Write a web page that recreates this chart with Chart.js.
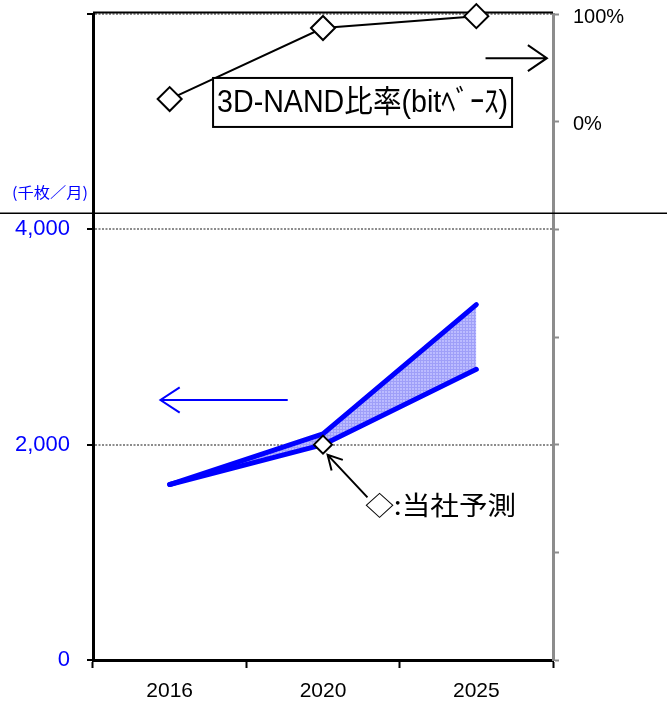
<!DOCTYPE html>
<html>
<head>
<meta charset="utf-8">
<script src="https://cdn.jsdelivr.net/npm/chart.js@4/dist/chart.umd.min.js"></script>
<style>
  html, body { margin: 0; padding: 0; background: #fff; }
  canvas { display: block; }
</style>
</head>
<body>
<canvas id="c" width="667" height="708"></canvas>
<script>
// ---- data ----
const years = ['2016', '2020', '2025'];
const capacityHigh = [1630, 2100, 3300];   // 千枚/月 (upper case)
const capacityLow = [1630, 2000, 2700];    // 千枚/月 (lower case)
const nandRatio = [21, 87, 98];            // 3D-NAND比率, %
const forecastPoint = [null, 2000, null];  // 当社予測
const leftTickLabels = [0, 2000, 4000];
const rightTickLabels = [0, 100];

// ---- annotation anchors (x: category index, y: axis value) ----
const notes = {
  leftArrow: { from: [0.77, 2415], to: [-0.06, 2415] },
  rightArrow: { from: [2.06, 59], to: [2.46, 59] },
  pointer: { from: [1.29, 1510], to: [1.03, 1905] },
  caption: { at: [1.275, 1440], width: 151, text: '◇:当社予測' },
  box: { x0: 0.283, x1: 2.233, top: 40.6, bottom: -4.9, text: '3D-NAND比率(bitﾍﾞｰｽ)' },
  divider: 4150,
  unit: { at: [-0.78, 4347], text: '(千枚／月)' }
};

const BLUE = '#0000ff';
const canvas = document.getElementById('c');

function hatchPattern() {
  const tile = document.createElement('canvas');
  tile.width = 3; tile.height = 3;
  const g = tile.getContext('2d');
  g.fillStyle = '#bcbcff';
  g.fillRect(0, 0, 3, 3);
  g.fillStyle = '#9f9ff8';
  g.fillRect(0, 0, 3, 1);
  g.fillRect(0, 0, 1, 3);
  return canvas.getContext('2d').createPattern(tile, 'repeat');
}

function arrow(ctx, x1, y1, x2, y2, color, width, headLen, headAngle) {
  ctx.save();
  ctx.strokeStyle = color;
  ctx.lineWidth = width;
  ctx.lineJoin = 'miter';
  ctx.beginPath();
  ctx.moveTo(x1, y1);
  ctx.lineTo(x2, y2);
  const a = Math.atan2(y2 - y1, x2 - x1);
  ctx.moveTo(x2 - headLen * Math.cos(a - headAngle), y2 - headLen * Math.sin(a - headAngle));
  ctx.lineTo(x2, y2);
  ctx.lineTo(x2 - headLen * Math.cos(a + headAngle), y2 - headLen * Math.sin(a + headAngle));
  ctx.stroke();
  ctx.restore();
}

function fitText(ctx, text, cx, cy, width, font, color, align) {
  ctx.save();
  ctx.font = font;
  ctx.fillStyle = color;
  ctx.textBaseline = 'middle';
  ctx.textAlign = 'left';
  const w = ctx.measureText(text).width;
  const k = width / w;
  const left = align === 'left' ? cx : cx - width / 2;
  ctx.translate(left, cy);
  ctx.scale(k, 1);
  ctx.fillText(text, 0, 0);
  ctx.restore();
}

const decorations = {
  id: 'decorations',
  beforeDatasetsDraw(chart) {
    const { ctx, chartArea } = chart;
    // top frame line
    ctx.save();
    ctx.strokeStyle = '#000';
    ctx.lineWidth = 2;
    ctx.beginPath();
    ctx.moveTo(chartArea.left, chartArea.top - 1.5);
    ctx.lineTo(chartArea.right, chartArea.top - 1.5);
    ctx.stroke();
    ctx.restore();
  },
  afterDatasetsDraw(chart) {
    const { ctx } = chart;
    const sx = chart.scales.x, sy = chart.scales.y, sr = chart.scales.y1;
    const X = v => sx.getPixelForValue(v);
    const YL = v => sy.getPixelForValue(v);
    const YR = v => sr.getPixelForValue(v);

    // label box for the ratio series
    const b = notes.box;
    const bx0 = X(b.x0), bx1 = X(b.x1), by0 = YR(b.top), by1 = YR(b.bottom);
    ctx.save();
    ctx.fillStyle = '#fff';
    ctx.fillRect(bx0, by0, bx1 - bx0, by1 - by0);
    ctx.strokeStyle = '#000';
    ctx.lineWidth = 2;
    ctx.strokeRect(bx0, by0, bx1 - bx0, by1 - by0);
    ctx.restore();
    fitText(ctx, b.text, (bx0 + bx1) / 2, (by0 + by1) / 2 + 1, (bx1 - bx0) - 8,
      '31px "Liberation Sans Narrow", "Liberation Sans", "Noto Sans CJK JP", sans-serif', '#000', 'center');

    // axis direction arrows
    const la = notes.leftArrow;
    arrow(ctx, X(la.from[0]), YL(la.from[1]), X(la.to[0]), YL(la.to[1]), BLUE, 2, 23, 0.58);
    const ra = notes.rightArrow;
    arrow(ctx, X(ra.from[0]), YR(ra.from[1]), X(ra.to[0]), YR(ra.to[1]), '#000', 2, 23, 0.6);

    // pointer to the forecast marker
    const p = notes.pointer;
    arrow(ctx, X(p.from[0]), YL(p.from[1]), X(p.to[0]), YL(p.to[1]), '#000', 2, 16, 0.5);
    const c = notes.caption;
    fitText(ctx, c.text, X(c.at[0]), YL(c.at[1]), c.width,
      '26px "Noto Sans CJK JP", sans-serif', '#000', 'left');

    // unit label
    const u = notes.unit;
    fitText(ctx, u.text, X(u.at[0]), YL(u.at[1]), 76,
      '15px "Noto Sans CJK JP", sans-serif', BLUE, 'center');
  },
  afterDraw(chart) {
    const { ctx } = chart;
    const y = chart.scales.y.getPixelForValue(notes.divider);
    ctx.save();
    ctx.strokeStyle = '#000';
    ctx.lineWidth = 1.5;
    ctx.beginPath();
    ctx.moveTo(0, y);
    ctx.lineTo(chart.width, y);
    ctx.stroke();
    ctx.restore();
  }
};

function fixWidth(w) {
  return s => { s.width = w; s.paddingTop = 0; s.paddingBottom = 0; };
}

new Chart(canvas, {
  type: 'line',
  data: {
    labels: years,
    datasets: [
      {
        label: 'ratio',
        data: nandRatio,
        yAxisID: 'y1',
        borderColor: '#000',
        borderWidth: 2,
        pointStyle: 'rectRot',
        pointRadius: 12,
        pointBackgroundColor: '#fff',
        pointBorderColor: '#000',
        pointBorderWidth: 2,
        tension: 0,
        clip: false,
        order: 0
      },
      {
        label: 'forecast',
        data: forecastPoint,
        yAxisID: 'y',
        showLine: false,
        pointStyle: 'rectRot',
        pointRadius: 9,
        pointBackgroundColor: '#fff',
        pointBorderColor: '#000',
        pointBorderWidth: 2,
        clip: false,
        order: 1
      },
      {
        label: 'high',
        data: capacityHigh,
        yAxisID: 'y',
        borderColor: BLUE,
        borderWidth: 5,
        borderCapStyle: 'round',
        borderJoinStyle: 'round',
        pointRadius: 0,
        tension: 0,
        fill: '+1',
        backgroundColor: hatchPattern(),
        order: 2
      },
      {
        label: 'low',
        data: capacityLow,
        yAxisID: 'y',
        borderColor: BLUE,
        borderWidth: 5,
        borderCapStyle: 'round',
        borderJoinStyle: 'round',
        pointRadius: 0,
        tension: 0,
        fill: false,
        order: 3
      }
    ]
  },
  options: {
    responsive: false,
    devicePixelRatio: 1,
    animation: false,
    layout: { padding: { top: 14, left: 0, right: 0, bottom: 0 } },
    plugins: {
      legend: { display: false },
      tooltip: { enabled: false },
      filler: { drawTime: 'beforeDatasetsDraw' }
    },
    scales: {
      x: {
        type: 'category',
        offset: true,
        grid: {
          offset: true,
          drawOnChartArea: false,
          tickLength: 8,
          tickWidth: 2,
          tickColor: '#000'
        },
        border: { color: '#000', width: 3 },
        ticks: {
          color: '#000',
          padding: 11,
          font: { family: '"Liberation Sans", sans-serif', size: 21 }
        },
        afterFit: s => { s.height = 48; s.paddingLeft = 0; s.paddingRight = 0; }
      },
      y: {
        position: 'left',
        min: 0,
        max: 6000,
        ticks: {
          stepSize: 2000,
          color: BLUE,
          padding: 17,
          font: { family: '"Liberation Sans", sans-serif', size: 22 },
          callback: v => leftTickLabels.includes(v) ? v.toLocaleString('en-US') : ''
        },
        grid: {
          color: c => c.tick && c.tick.value === 0 ? 'rgba(0,0,0,0)' : '#8c8c8c',
          lineWidth: 2,
          tickLength: 6,
          tickWidth: 2,
          tickColor: '#000',
          tickBorderDash: []
        },
        border: { color: '#000', width: 3, dash: [2, 1.5] },
        afterFit: fixWidth(93)
      },
      y1: {
        position: 'right',
        min: -500,
        max: 100,
        ticks: {
          stepSize: 100,
          color: '#000',
          padding: 14,
          labelOffset: 3,
          font: { family: '"Liberation Sans", sans-serif', size: 20 },
          callback: v => rightTickLabels.includes(v) ? v + '%' : ''
        },
        grid: {
          drawOnChartArea: false,
          tickLength: 6,
          tickWidth: 2,
          tickColor: '#8c8c8c'
        },
        border: { color: '#8c8c8c', width: 3 },
        afterFit: fixWidth(114)
      }
    }
  },
  plugins: [decorations]
});
</script>
</body>
</html>
